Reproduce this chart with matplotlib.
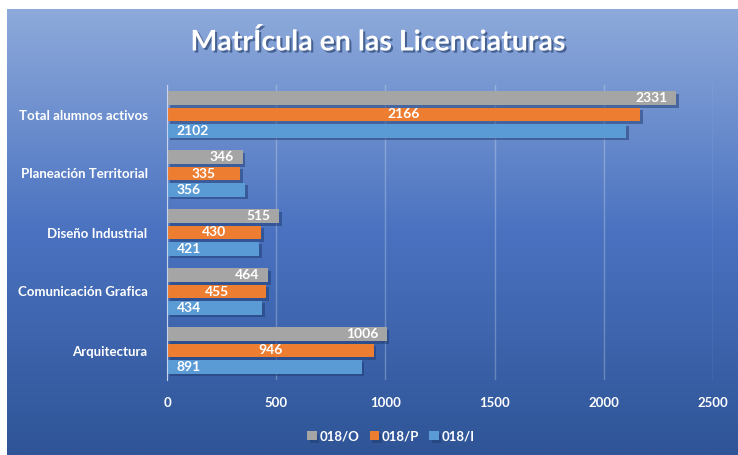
import matplotlib.pyplot as plt
import matplotlib.patheffects as pe
import numpy as np
from matplotlib.colors import LinearSegmentedColormap

# datos
categorias = ['Arquitectura', 'Comunicación Grafica', 'Diseño Industrial',
              'Planeación Territorial', 'Total alumnos activos']
serie_o = [1006, 464, 515, 346, 2331]
serie_p = [946, 455, 430, 335, 2166]
serie_i = [891, 434, 421, 356, 2102]
nombres = ['018/O', '018/P', '018/I']

plt.rcParams['font.family'] = ['Lato', 'DejaVu Sans']

W, H = 738, 455
fig = plt.figure(figsize=(W / 100, H / 100), dpi=100)
fig.patch.set_facecolor('white')

# fondo con degradado
bg = fig.add_axes([7 / W, 0, 1 - 7 / W, 1 - 9 / H])
cmap = LinearSegmentedColormap.from_list('fondo', ['#8eaadb', '#4a72c0', '#2f5597'])
bg.imshow(np.linspace(0, 1, 256).reshape(-1, 1), aspect='auto', cmap=cmap,
          extent=[0, 1, 0, 1])
bg.axis('off')

ax = fig.add_axes([167 / W, 1 - 380 / H, (713 - 167) / W, (380 - 85) / H])
ax.set_facecolor('none')

y = np.arange(len(categorias))
alto = 0.237
paso = 0.272
sombra = [pe.SimplePatchShadow(offset=(2, -2), shadow_rgbFace='#1f3a6e', alpha=0.5), pe.Normal()]

b_o = ax.barh(y + paso, serie_o, height=alto, color='#a5a5a5', path_effects=sombra, zorder=3)
b_p = ax.barh(y, serie_p, height=alto, color='#ed7d31', path_effects=sombra, zorder=3)
b_i = ax.barh(y - paso, serie_i, height=alto, color='#5b9bd5', path_effects=sombra, zorder=3)

estilo = dict(color='white', fontsize=10, fontweight='bold', va='center', zorder=4)
for k in range(len(categorias)):
    ax.text(serie_o[k] - 40, y[k] + paso, str(serie_o[k]), ha='right', **estilo)
    ax.text(serie_p[k] / 2, y[k], str(serie_p[k]), ha='center', **estilo)
    ax.text(45, y[k] - paso, str(serie_i[k]), ha='left', **estilo)

ax.set_xlim(0, 2500)
ax.set_ylim(-0.5, len(categorias) - 0.5)
ax.set_xticks(np.arange(0, 2501, 500))
ax.set_yticks(y)
ax.set_yticklabels(categorias)
ax.tick_params(colors='white', length=0, labelsize=9.5, pad=14)
ax.tick_params(axis='x', pad=12)
for lab in ax.get_xticklabels() + ax.get_yticklabels():
    lab.set_fontweight('bold')
ax.grid(axis='x', color='white', alpha=0.25, linewidth=1, zorder=0)
for s in ['top', 'right', 'bottom']:
    ax.spines[s].set_visible(False)
ax.spines['left'].set_color('#c8d4ee')
ax.spines['left'].set_zorder(5)

# título con sombra
fig.text(378 / W, 1 - 42 / H, 'MatrÍcula en las Licenciaturas', color='white',
         fontsize=20.5, fontweight='bold', ha='center', va='center',
         path_effects=[pe.SimplePatchShadow(offset=(1.5, -1.5), shadow_rgbFace='#203864', alpha=0.6),
                       pe.Normal()])

# leyenda
leg = ax.legend([b_o, b_p, b_i], nombres, loc='center', bbox_to_anchor=(0.41, -0.19),
                ncol=3, frameon=False, handlelength=0.7, handleheight=0.7,
                handletextpad=0.2, columnspacing=0.8,
                prop={'weight': 'bold', 'size': 9.5})
for t in leg.get_texts():
    t.set_color('white')

fig.savefig('out.png', dpi=100)
